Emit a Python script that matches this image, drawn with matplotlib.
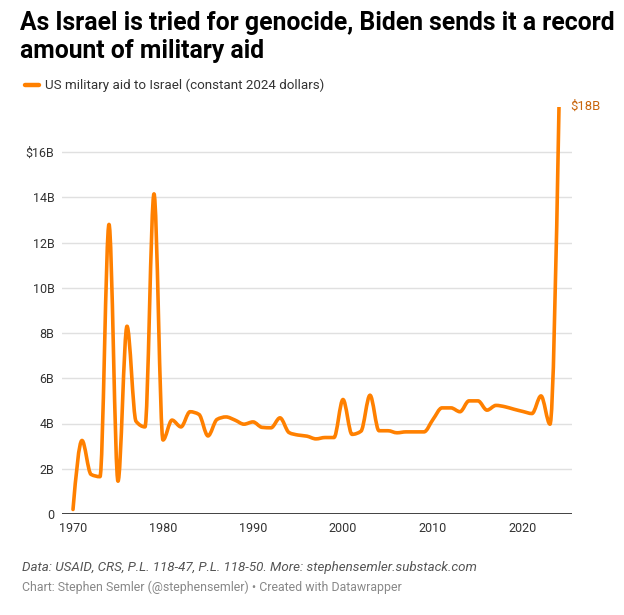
import numpy as np
import matplotlib
matplotlib.use("Agg")
import matplotlib.pyplot as plt
from matplotlib.path import Path
from matplotlib.patches import PathPatch

# US military aid to Israel, billions of constant 2024 dollars
years = list(range(1970, 2025))
aid = [0.2, 3.25, 1.75, 1.65, 12.8, 1.45, 8.3, 4.1, 3.85, 14.15,
       3.27, 4.15, 3.85, 4.52, 4.4, 3.45, 4.18, 4.29, 4.15, 3.97,
       4.07, 3.83, 3.81, 4.25, 3.6, 3.49, 3.44, 3.32, 3.38, 3.38,
       5.06, 3.52, 3.66, 5.25, 3.68, 3.68, 3.59, 3.63, 3.63, 3.63,
       4.18, 4.69, 4.69, 4.52, 5.0, 5.0, 4.59, 4.8, 4.74, 4.63,
       4.53, 4.44, 5.22, 3.97, 18.0]

ytick_vals = [0, 2, 4, 6, 8, 10, 12, 14, 16]
ytick_labels = ["0", "2B", "4B", "6B", "8B", "10B", "12B", "14B", "$16B"]
xtick_vals = [1970, 1980, 1990, 2000, 2010, 2020]

title_lines = ["As Israel is tried for genocide, Biden sends it a record",
               "amount of military aid"]
legend_label = "US military aid to Israel (constant 2024 dollars)"
end_label = "$18B"
source = "Data: USAID, CRS, P.L. 118-47, P.L. 118-50. More: stephensemler.substack.com"
credit = "Chart: Stephen Semler (@stephensemler) \u2022 Created with Datawrapper"

LINE = "#ff8000"
LABEL = "#c8640a"

plt.rcParams['font.family'] = ['Roboto', 'DejaVu Sans']


def monotone_path(x, y):
    # same curve shape as d3.curveMonotoneX, as cubic bezier segments
    x = np.asarray(x, float)
    y = np.asarray(y, float)
    n = len(x)
    h = np.diff(x)
    s = np.diff(y) / h
    t = np.zeros(n)
    for i in range(1, n - 1):
        p = (s[i - 1] * h[i] + s[i] * h[i - 1]) / (h[i - 1] + h[i])
        sg = (1 if s[i - 1] >= 0 else -1) + (1 if s[i] >= 0 else -1)
        t[i] = sg * min(abs(s[i - 1]), abs(s[i]), 0.5 * abs(p))
    t[0] = (3 * s[0] - t[1]) / 2
    t[-1] = (3 * s[-1] - t[-2]) / 2
    verts = [(x[0], y[0])]
    codes = [Path.MOVETO]
    for i in range(n - 1):
        dx = h[i] / 3
        verts += [(x[i] + dx, y[i] + dx * t[i]),
                  (x[i + 1] - dx, y[i + 1] - dx * t[i + 1]),
                  (x[i + 1], y[i + 1])]
        codes += [Path.CURVE4] * 3
    return Path(verts, codes)


W, H = 624, 615
fig = plt.figure(figsize=(W / 100, H / 100), dpi=100)
ax = fig.add_axes([62 / W, 1 - 514 / H, 510 / W, (514 - 106.75) / H])

ax.set_xlim(1970 - 11 / 9, 1970 + 499 / 9)
ax.set_ylim(0, 18)

for v in ytick_vals[1:]:
    ax.axhline(v, color="#e0e0e0", lw=1, zorder=1)
ax.axhline(0, color="#333333", lw=1.3, zorder=3)

patch = PathPatch(monotone_path(years, aid), fill=False, edgecolor=LINE,
                  lw=2.6, capstyle="round", joinstyle="round", zorder=4)
ax.add_patch(patch)

ax.text(years[-1] + 1.3, aid[-1], end_label, color=LABEL, fontsize=9.4,
        va="center", ha="left")

for sp in ax.spines.values():
    sp.set_visible(False)
ax.set_yticks(ytick_vals)
ax.set_yticklabels(ytick_labels)
ax.set_xticks(xtick_vals)
ax.tick_params(length=0, labelsize=9, colors="#333333")
ax.tick_params(axis="y", pad=5.4)
ax.tick_params(axis="x", pad=6)

# title, legend and footer
for i, line in enumerate(title_lines):
    fig.text(20 / W, 1 - (30 + 28 * i) / H, line, fontsize=17.8,
             fontweight="bold", color="#000000", va="baseline", ha="left")

fig.add_artist(plt.Line2D([25 / W, 39 / W], [1 - 85 / H, 1 - 85 / H],
                          color=LINE, lw=3.2, solid_capstyle="round"))
fig.text(45 / W, 1 - 85 / H, legend_label, fontsize=9.66, color="#333333",
         va="center", ha="left")

fig.text(22 / W, 1 - 567 / H, source, fontsize=9.65, style="italic",
         color="#555555", va="center", ha="left")
fig.text(22 / W, 1 - 587 / H, credit, fontsize=8.93, color="#888888",
         va="center", ha="left")

fig.savefig("out.png", dpi=100, facecolor="white")
